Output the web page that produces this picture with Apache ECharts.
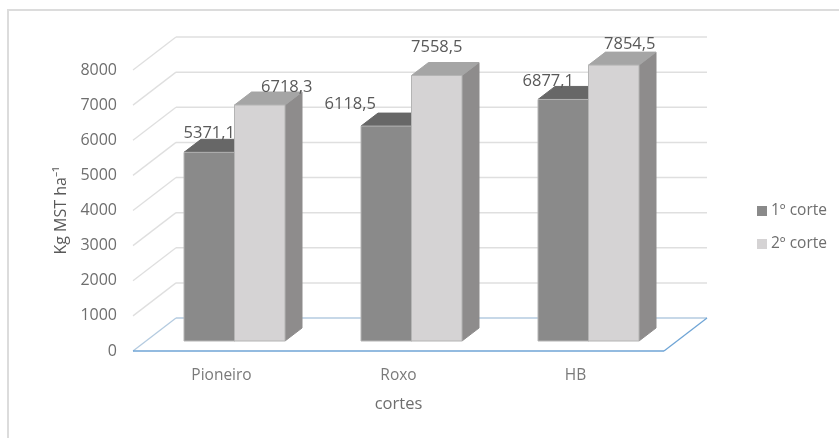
<!DOCTYPE html>
<html><head><meta charset="utf-8">
<style>html,body{margin:0;padding:0;background:#fff}#c{width:839px;height:438px}</style>
<script src="https://cdn.jsdelivr.net/npm/echarts@6/dist/echarts.min.js"></script>
</head><body><div id="c"></div>
<script>
const categories = ['Pioneiro', 'Roxo', 'HB'];
const corte1 = [5371.1, 6118.5, 6877.1];
const corte2 = [6718.3, 7558.5, 7854.5];
const yTicks = [0, 1000, 2000, 3000, 4000, 5000, 6000, 7000, 8000];
const seriesNames = ['1º corte', '2º corte'];

// Drawing constants of the pseudo-3D look
const WALL_DX = 43, WALL_DY = -33, PLANE_DX = 13, PLANE_DY = -10, SIDE_DX = 17, SIDE_DY = -13, BAR_W = 50.5;
const FONT = '"Open Sans"';
const looks = [
  {front:'#8a8a8a', top:'#676767', side:'#7c7c7c'},
  {front:'#d5d3d4', top:'#a5a5a5', side:'#8e8c8c'}
];
// Hand placed label offsets of the original, per series and category
const labelNudge = [
  [[0, -19], [-36, -22], [-15, -18]],
  [[27, -18], [0, -28], [16, -21]]
];
const fmt = v => v.toFixed(1).replace('.', ',');

function poly(points, fill, stroke) {
  return {type:'polygon', shape:{points}, style:{fill, stroke:stroke||fill, lineWidth:1}};
}
function barRender(si) {
  return function (params, api) {
    const ci = api.value(0), v = api.value(1);
    const base = api.coord([ci, 0]), topPt = api.coord([ci, v]);
    const cx = base[0] + PLANE_DX;
    const x0 = si === 0 ? cx - BAR_W : cx, x1 = x0 + BAR_W;
    const yB = base[1] + PLANE_DY, yT = topPt[1] + PLANE_DY;
    const L = looks[si];
    const n = labelNudge[si][ci];
    return {type:'group', children:[
      poly([[x1,yT],[x1+SIDE_DX,yT+SIDE_DY],[x1+SIDE_DX,yB+SIDE_DY],[x1,yB]], L.side),
      poly([[x0,yT],[x0+SIDE_DX,yT+SIDE_DY],[x1+SIDE_DX,yT+SIDE_DY],[x1,yT]], L.top),
      {type:'rect', shape:{x:x0,y:yT,width:BAR_W,height:yB-yT}, style:{fill:L.front, stroke:'#b4b4b4', lineWidth:1}},
      {type:'text', z2:10, style:{text:fmt(v), x:(x0+x1)/2+n[0], y:yT+n[1], align:'center', verticalAlign:'middle',
        font:'16.5px '+FONT, fill:'#595959'}}
    ]};
  };
}
function wallRender(params, api) {
  const v = api.value(0);
  const cs = params.coordSys;
  const p = api.coord([0, v]);
  const xL = cs.x, xR = cs.x + cs.width, y = p[1];
  const grey = '#dfdfdf';
  const isZero = v === 0;
  const c = isZero ? '#b4cbe0' : grey;
  const kids = [
    {type:'line', shape:{x1:xL,y1:y,x2:xL+WALL_DX,y2:y+WALL_DY}, style:{stroke:c, lineWidth:1.3}},
    {type:'line', shape:{x1:xL+WALL_DX,y1:y+WALL_DY,x2:xR+WALL_DX,y2:y+WALL_DY}, style:{stroke:c, lineWidth:1.5}}
  ];
  if (isZero) {
    kids.push({type:'line', shape:{x1:xL,y1:y,x2:xR,y2:y}, style:{stroke:'#6fa5d6', lineWidth:1.5}});
    kids.push({type:'line', shape:{x1:xR,y1:y,x2:xR+WALL_DX,y2:y+WALL_DY}, style:{stroke:'#6fa5d6', lineWidth:1.3}});
  }
  return {type:'group', children:kids};
}

const chart = echarts.init(document.getElementById('c'), null, {renderer:'canvas'});
chart.setOption({
  animation:false,
  backgroundColor:'#fff',
  textStyle:{fontFamily:FONT},
  graphic:[{type:'polyline', silent:true, z:-1, shape:{points:[[8,438],[8,10],[839,10]]}, style:{stroke:'#dcdcdc', lineWidth:2, fill:null}}],
  grid:{left:133, top:70, width:531, height:281},
  legend:{
    orient:'vertical', left:752, top:198, itemWidth:10, itemHeight:10, itemGap:17, icon:'rect',
    data:seriesNames, selectedMode:false,
    textStyle:{color:'#6e6e6e', fontSize:15.5, fontFamily:FONT, padding:[0,0,0,-1]}
  },
  xAxis:{type:'category', data:categories, axisLine:{show:false}, axisTick:{show:false},
    axisLabel:{color:'#7a7a7a', fontSize:15.5, margin:17, fontFamily:FONT},
    name:'cortes', nameLocation:'middle', nameGap:45, nameTextStyle:{color:'#6e6e6e', fontSize:16.5, fontFamily:FONT}},
  yAxis:{type:'value', min:0, max:8000, interval:1000, splitLine:{show:false}, axisLine:{show:false}, axisTick:{show:false},
    axisLabel:{color:'#6e6e6e', fontSize:16, margin:16, fontFamily:FONT, formatter:v=>String(v)},
    name:'Kg MST ha⁻¹', nameLocation:'middle', nameGap:62, nameTextStyle:{color:'#595959', fontSize:16, fontFamily:FONT}},
  series:[
    {type:'custom', silent:true, z:1, data:yTicks.map(v=>[v]), encode:{y:0}, renderItem:wallRender, clip:false},
    {type:'custom', name:seriesNames[0], z:2, itemStyle:{color:looks[0].front}, data:corte1.map((v,i)=>[i,v]), encode:{x:0,y:1}, renderItem:barRender(0), clip:false},
    {type:'custom', name:seriesNames[1], z:3, itemStyle:{color:looks[1].front}, data:corte2.map((v,i)=>[i,v]), encode:{x:0,y:1}, renderItem:barRender(1), clip:false}
  ]
});
</script></body></html>
